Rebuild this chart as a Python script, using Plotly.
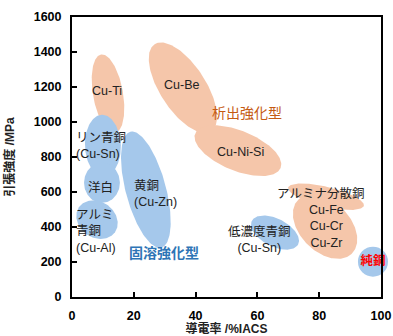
import numpy as np
import plotly.graph_objects as go

# ---- figure geometry ----
W, H = 393, 336
ML, MR, MT, MB = 72, 12, 17, 39
X_RANGE = [0, 100]
Y_RANGE = [0, 1600]

# ---- property regions ----
# centre conductivity (%IACS), centre tensile strength (MPa),
# semi-axes (in %IACS-equivalent lengths), tilt (deg, anticlockwise)
prec_names = ["Cu-Ti", "Cu-Be", "Cu-Ni-Si", "アルミナ分散銅", "Cu-Fe/Cu-Cr/Cu-Zr"]
prec_cond = [11.65, 35.9, 53.7, 82.2, 81.9]
prec_strength = [1161, 1196, 836, 573, 402]
prec_major = [12.9, 16.8, 14.9, 12.6, 12.3]
prec_minor = [4.85, 7.4, 6.5, 3.2, 8.1]
prec_tilt = [100, 123, -22, -13.5, -45]

sol_names = ["リン青銅", "洋白", "アルミ青銅", "黄銅", "低濃度青銅"]
sol_cond = [10.0, 9.7, 8.1, 23.9, 65.7]
sol_strength = [865, 653, 442, 613, 368]
sol_major = [10.0, 6.5, 7.1, 19.4, 8.4]
sol_minor = [5.8, 5.8, 5.8, 6.5, 4.5]
sol_tilt = [92, 90, -35, 105, -27]

pure_cond = 97.4
pure_strength = 202

ORANGE = "#F5C6AA"
BLUE = "#A5C8EB"
ORANGE_TXT = "#C55A11"
BLUE_TXT = "#2E75B6"
FONT = "Liberation Sans, Arial, Noto Sans CJK JP"

plot_w = W - ML - MR
plot_h = H - MT - MB
# MPa that correspond to one %IACS of on-screen length
R = ((Y_RANGE[1] - Y_RANGE[0]) / plot_h) * (plot_w / (X_RANGE[1] - X_RANGE[0]))


def ellipse(cx, cy, a, b, tilt):
    t = np.linspace(0, 2 * np.pi, 160)
    th = np.deg2rad(tilt)
    dx = a * np.cos(t) * np.cos(th) - b * np.sin(t) * np.sin(th)
    dy = a * np.cos(t) * np.sin(th) + b * np.sin(t) * np.cos(th)
    return cx + dx, cy + dy * R


fig = go.Figure()

for cx, cy, a, b, tl in zip(prec_cond, prec_strength, prec_major, prec_minor, prec_tilt):
    xs, ys = ellipse(cx, cy, a, b, tl)
    fig.add_trace(go.Scatter(x=xs, y=ys, mode="lines", fill="toself",
                             fillcolor=ORANGE, line=dict(width=0, color=ORANGE),
                             hoverinfo="skip", showlegend=False))

for cx, cy, a, b, tl in zip(sol_cond, sol_strength, sol_major, sol_minor, sol_tilt):
    xs, ys = ellipse(cx, cy, a, b, tl)
    fig.add_trace(go.Scatter(x=xs, y=ys, mode="lines", fill="toself",
                             fillcolor=BLUE, line=dict(width=0, color=BLUE),
                             hoverinfo="skip", showlegend=False))

# pure copper
fig.add_trace(go.Scatter(x=[pure_cond], y=[pure_strength], mode="markers+text",
                         marker=dict(size=30, color=BLUE, line=dict(width=0)),
                         text=["<b>純銅</b>"], textposition="middle center",
                         textfont=dict(family=FONT, size=12.5, color="#FF0000"),
                         cliponaxis=False, hoverinfo="skip", showlegend=False))


def label(x, y, text, size=12.5, color="#222222", xanchor="center", align="center"):
    fig.add_annotation(x=x, y=y, xref="x", yref="y", text=text, showarrow=False,
                       xanchor=xanchor, yanchor="middle", align=align,
                       font=dict(family=FONT, size=size, color=color))


label(11.3, 1179, "Cu-Ti")
label(35.3, 1213, "Cu-Be")
label(56.6, 1053, "析出強化型", size=14, color=ORANGE_TXT)
label(54.4, 830, "Cu-Ni-Si")
label(0.6, 865, "リン青銅<br>(Cu-Sn)", xanchor="left", align="left")
label(9.1, 624, "洋白")
label(0.6, 373, "アルミ<br>青銅<br>(Cu-Al)", xanchor="left", align="left")
label(19.4, 587, "黄銅<br>(Cu-Zn)", xanchor="left", align="left")
label(29.8, 253, "<b>固溶強化型</b>", size=14, color=BLUE_TXT)
label(60.8, 330, "低濃度青銅<br>(Cu-Sn)")
label(80.3, 590, "アルミナ分散銅")
label(82.2, 402, "Cu-Fe<br>Cu-Cr<br>Cu-Zr")

axis_common = dict(showline=True, linewidth=2, linecolor="black", mirror=True,
                   ticks="inside", ticklen=5, tickwidth=1.5, tickcolor="black",
                   showgrid=False, zeroline=False, automargin=False,
                   tickfont=dict(family=FONT, size=12.5, color="black", weight="bold"))

fig.update_layout(
    width=W, height=H,
    margin=dict(l=ML, r=MR, t=MT, b=MB),
    paper_bgcolor="white", plot_bgcolor="white",
    xaxis=dict(range=X_RANGE, tickvals=[0, 20, 40, 60, 80, 100], ticklabelstandoff=6,
               title=dict(text="<b>導電率 /%IACS</b>", standoff=9,
                          font=dict(family=FONT, size=12, color="#222222")),
               **axis_common),
    yaxis=dict(range=Y_RANGE, tickvals=list(range(0, 1601, 200)), ticklabelstandoff=6,
               title=dict(text="<b>引張強度 /MPa</b>", standoff=16,
                          font=dict(family=FONT, size=12, color="#222222")),
               **axis_common),
)

fig.write_html("out.html")
